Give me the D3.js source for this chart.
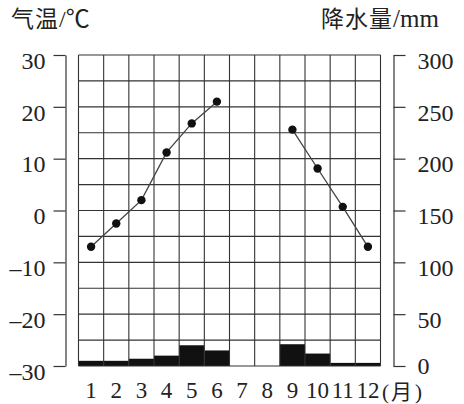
<!DOCTYPE html>
<html>
<head>
<meta charset="utf-8">
<script src="https://cdn.jsdelivr.net/npm/d3@7"></script>
<style>
  body { margin: 0; background: #fff; }
  svg { display: block; }
</style>
</head>
<body>
<script>
// chart data
let months = ['1', '2', '3', '4', '5', '6', '7', '8', '9', '10', '11', '12'];
let temps = [-7, -2.5, 2, 11.2, 16.8, 21, null, null, 15.6, 8.1, 0.7, -7];
let precip = [5, 5, 7, 10, 20, 15, 0, 0, 21, 12, 3, 3];
let tempTicks = [-30, -20, -10, 0, 10, 20, 30];
let precipTicks = [0, 50, 100, 150, 200, 250, 300];
let gridSteps = d3.range(-30, 31, 5);

let width = 464, height = 404;
let serif = '"Liberation Serif", "DejaVu Serif", serif';
let cjk = '"Noto Sans CJK SC", sans-serif';

let svg = d3.select('body').append('svg')
  .attr('width', width)
  .attr('height', height);

let x = d3.scaleBand().domain(months).range([78.5, 380.5]);
let yT = d3.scaleLinear().domain([-30, 30]).range([366, 55]);
let yP = d3.scaleLinear().domain([0, 300]).range([366, 55]);

// precipitation bars
svg.append('g').selectAll('rect')
  .data(precip)
  .join('rect')
  .attr('x', (d, i) => x(months[i]))
  .attr('width', x.bandwidth())
  .attr('y', d => yP(d))
  .attr('height', d => yP(0) - yP(d))
  .attr('fill', '#111');

// grid
let grid = svg.append('g').attr('stroke', '#333').attr('stroke-width', 1.1);
grid.selectAll('line.h')
  .data(gridSteps)
  .join('line')
  .attr('class', 'h')
  .attr('x1', x.range()[0]).attr('x2', x.range()[1])
  .attr('y1', d => yT(d)).attr('y2', d => yT(d));
grid.selectAll('line.v')
  .data(months.map(m => x(m)).concat([x.range()[1]]))
  .join('line')
  .attr('class', 'v')
  .attr('x1', d => d).attr('x2', d => d)
  .attr('y1', yT(30)).attr('y2', yT(-30));

// temperature line, broken where data is missing
let line = d3.line()
  .defined(d => d != null)
  .x((d, i) => x(months[i]) + x.bandwidth() / 2)
  .y(d => yT(d));
svg.append('path')
  .datum(temps)
  .attr('d', line)
  .attr('fill', 'none')
  .attr('stroke', '#444')
  .attr('stroke-width', 1.3);

svg.append('g').selectAll('circle')
  .data(temps.map((t, i) => ({ t, m: months[i] })).filter(d => d.t != null))
  .join('circle')
  .attr('cx', d => x(d.m) + x.bandwidth() / 2)
  .attr('cy', d => yT(d.t))
  .attr('r', 4.2)
  .attr('fill', '#111');

// axes
let leftAxis = svg.append('g')
  .attr('transform', 'translate(65.5,0)')
  .call(d3.axisLeft(yT).tickValues(tempTicks).tickSize(12).tickSizeOuter(0).tickPadding(8)
    .tickFormat(d => d < 0 ? '\u2013' + Math.abs(d) : d));
let rightAxis = svg.append('g')
  .attr('transform', 'translate(393.5,0)')
  .call(d3.axisRight(yP).tickValues(precipTicks).tickSize(12).tickSizeOuter(0).tickPadding(12));

[leftAxis, rightAxis].forEach(a => {
  a.attr('font-family', serif).attr('font-size', 24);
  a.selectAll('path, line').attr('stroke', '#333').attr('stroke-width', 1.2);
  a.selectAll('text')
    .style('font-family', serif)
    .attr('fill', '#222')
    .attr('dy', '0.55em');
});
// the 0 mm label sits level with its tick
rightAxis.selectAll('.tick').filter(d => d === 0).select('text').attr('dy', '0.3em');

let bottomAxis = svg.append('g')
  .attr('transform', 'translate(0,366)')
  .call(d3.axisBottom(x).tickSize(0).tickPadding(16));
bottomAxis.attr('font-family', serif).attr('font-size', 23);
bottomAxis.select('.domain').remove();
bottomAxis.selectAll('text')
  .style('font-family', serif)
  .attr('fill', '#222');

// month unit after the last label
let unit = svg.append('text')
  .attr('x', 382).attr('y', 399)
  .attr('font-size', 21)
  .attr('fill', '#222');
unit.append('tspan').style('font-family', serif).text('(');
unit.append('tspan').style('font-family', cjk).attr('dx', 2).text('月');
unit.append('tspan').style('font-family', serif).attr('dx', 3).text(')');

// axis titles
let t1 = svg.append('text').attr('x', 11).attr('y', 27).attr('font-size', 23).attr('fill', '#222');
t1.append('tspan').style('font-family', cjk).attr('letter-spacing', 1).text('气温');
t1.append('tspan').style('font-family', serif).attr('font-size', 24).text('/');
t1.append('tspan').style('font-family', cjk).attr('font-size', 24).text('℃');

let t2 = svg.append('text').attr('x', 321).attr('y', 27).attr('font-size', 23).attr('fill', '#222');
t2.append('tspan').style('font-family', cjk).attr('letter-spacing', 1).text('降水量');
t2.append('tspan').style('font-family', serif).attr('font-size', 25).text('/mm');
</script>
</body>
</html>
